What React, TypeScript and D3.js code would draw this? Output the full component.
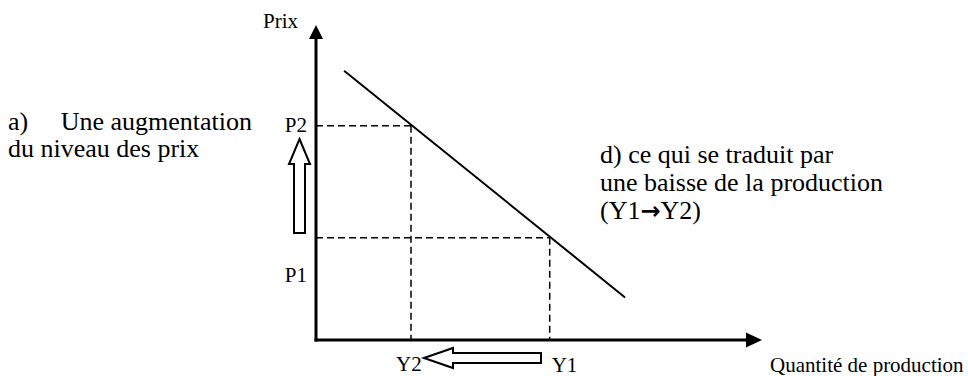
import React from "react";
import * as d3 from "d3";

const W = 968;
const H = 376;

// Data (abstract units)
const priceLevels = [
  { key: "P1", value: 32.5 },
  { key: "P2", value: 68 },
];
const quantityLevels = [
  { key: "Y1", value: 52.4 },
  { key: "Y2", value: 21.3 },
];
const demandCurve: [number, number][] = [
  [6.3, 85.5],
  [69.3, 13.5],
];
const axisLabels = { y: "Prix", x: "Quantité de production" };
const noteA = ["a)\u00A0\u00A0\u00A0\u00A0\u00A0Une augmentation", "du niveau des prix"];
const noteD = ["d) ce qui se traduit par", "une baisse de la production"];
const noteDLast = ["(Y1", "\u2192", "Y2)"];

const FONT = "'Liberation Serif', 'Times New Roman', serif";

export default function App() {
  const x = d3.scaleLinear().domain([0, 100]).range([316, 762]);
  const y = d3.scaleLinear().domain([0, 100]).range([340, 25]);
  const line = d3
    .line<[number, number]>()
    .x((d) => x(d[0]))
    .y((d) => y(d[1]));

  const P1 = priceLevels[0].value;
  const P2 = priceLevels[1].value;
  const Y1 = quantityLevels[0].value;
  const Y2 = quantityLevels[1].value;

  const x0 = x(0);
  const y0 = y(0);

  const ua = { cx: 299.5, tip: 139, headBase: 164, halfHead: 10.5, halfShaft: 5.5, bottom: 233 };
  const upArrow = [
    [ua.cx, ua.tip],
    [ua.cx + ua.halfHead, ua.headBase],
    [ua.cx + ua.halfShaft, ua.headBase],
    [ua.cx + ua.halfShaft, ua.bottom],
    [ua.cx - ua.halfShaft, ua.bottom],
    [ua.cx - ua.halfShaft, ua.headBase],
    [ua.cx - ua.halfHead, ua.headBase],
  ];
  const la = { cy: 358, tip: 424, headBase: 453, halfHead: 10, halfShaft: 5, right: 541 };
  const leftArrow = [
    [la.tip, la.cy],
    [la.headBase, la.cy - la.halfHead],
    [la.headBase, la.cy - la.halfShaft],
    [la.right, la.cy - la.halfShaft],
    [la.right, la.cy + la.halfShaft],
    [la.headBase, la.cy + la.halfShaft],
    [la.headBase, la.cy + la.halfHead],
  ];
  const poly = (pts: number[][]) => pts.map((p) => p.join(",")).join(" ");

  return (
    <svg
      width={W}
      height={H}
      style={{ position: "absolute", left: 0, top: 0, background: "#fff" }}
      fontFamily={FONT}
    >
      <rect width={W} height={H} fill="#fff" />
      <g stroke="#000" strokeWidth={1.5} strokeDasharray="7,4" fill="none">
        <line x1={x0} y1={y(P2)} x2={x(Y2)} y2={y(P2)} />
        <line x1={x(Y2)} y1={y(P2)} x2={x(Y2)} y2={y0} />
        <line x1={x0} y1={y(P1)} x2={x(Y1)} y2={y(P1)} />
        <line x1={x(Y1)} y1={y(P1)} x2={x(Y1)} y2={y0} />
      </g>
      <path d={line(demandCurve) || ""} stroke="#000" strokeWidth={2} fill="none" />
      <line x1={x0} y1={y0 + 1.5} x2={x0} y2={y(100) + 12} stroke="#000" strokeWidth={3} />
      <line x1={x0 - 1.5} y1={y0} x2={x(100) - 14} y2={y0} stroke="#000" strokeWidth={3} />
      <polygon points={poly([[x0, y(100)], [x0 + 7, y(100) + 14], [x0 - 7, y(100) + 14]])} fill="#000" />
      <polygon points={poly([[x(100), y0], [x(100) - 16, y0 - 7.5], [x(100) - 16, y0 + 7.5]])} fill="#000" />
      <polygon points={poly(upArrow)} fill="#fff" stroke="#000" strokeWidth={2} />
      <polygon points={poly(leftArrow)} fill="#fff" stroke="#000" strokeWidth={2} />
      <g fill="#000" fontSize={21}>
        <text x={263} y={28}>{axisLabels.y}</text>
        <text x={770} y={372}>{axisLabels.x}</text>
        <text x={307} y={y(P2) + 6} textAnchor="end">{priceLevels[1].key}</text>
        <text x={307} y={282} textAnchor="end">{priceLevels[0].key}</text>
        <text x={x(Y2) - 15} y={371}>{quantityLevels[1].key}</text>
        <text x={x(Y1) + 2} y={372}>{quantityLevels[0].key}</text>
      </g>
      <g fill="#000" fontSize={26}>
        {noteA.map((t, i) => (
          <text key={t} x={8} y={130 + i * 27}>{t}</text>
        ))}
        {noteD.map((t, i) => (
          <text key={t} x={600} y={163 + i * 28}>{t}</text>
        ))}
        <text x={600} y={219}>
          {noteDLast[0]}
          <tspan fontFamily="'DejaVu Sans'" fontWeight="bold" fontSize={24}>{noteDLast[1]}</tspan>
          {noteDLast[2]}
        </text>
      </g>
    </svg>
  );
}
